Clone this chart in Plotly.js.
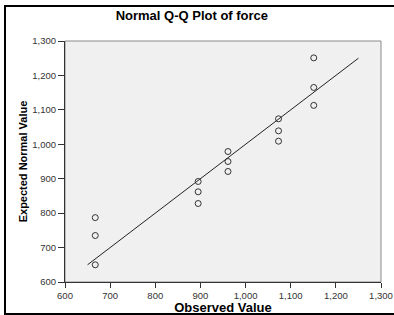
<!DOCTYPE html>
<html>
<head>
<meta charset="utf-8">
<script src="https://cdn.plot.ly/plotly-3.0.1.min.js"></script>
<style>
html,body{margin:0;padding:0;background:#fff;}
#wrap{position:relative;width:394px;height:315px;}
#chart{position:absolute;left:0;top:0;width:394px;height:315px;}
#frame{position:absolute;left:4px;top:5px;width:392px;height:306px;border-top:2px solid #000;border-left:2px solid #000;border-bottom:2px solid #000;pointer-events:none;}
</style>
</head>
<body>
<div id="wrap"><div id="chart"></div><div id="frame"></div></div>
<script>
var observed = [667, 667, 667, 895, 895, 895, 961, 961, 961, 1073, 1073, 1073, 1151, 1151, 1151];
var expected = [650, 735, 787, 828, 862, 892, 921, 950, 979, 1009, 1039, 1074, 1113, 1165, 1251];
var refLine = [650, 1250];
var xTicks = [600, 700, 800, 900, 1000, 1100, 1200, 1300];
var yTicks = [600, 700, 800, 900, 1000, 1100, 1200, 1300];

var traces = [
  {x: refLine, y: refLine, mode: 'lines', type: 'scatter',
   line: {color: '#222', width: 1}, hoverinfo: 'skip'},
  {x: observed, y: expected, mode: 'markers', type: 'scatter',
   marker: {symbol: 'circle-open', size: 6, color: '#333', line: {width: 1, color: '#333'}}}
];

var axisFont = {family: 'Liberation Sans, Arial, sans-serif', size: 9.5, color: '#333'};
var layout = {
  width: 394, height: 315,
  margin: {l: 65, r: 13, t: 41, b: 33, pad: 0},
  paper_bgcolor: '#fff',
  plot_bgcolor: '#f0f0f0',
  showlegend: false,
  title: {text: 'Normal Q-Q Plot of force', x: 0.487, xref: 'container', xanchor: 'center',
          y: 0.952, yref: 'container', yanchor: 'middle',
          font: {family: 'Liberation Sans, Arial, sans-serif', size: 13, color: '#000', weight: 'bold'}},
  xaxis: {range: [600, 1300], tickvals: xTicks, tickformat: ',d',
          showgrid: false, zeroline: false, showline: true, linecolor: '#333', linewidth: 1,
          ticks: 'outside', ticklen: 5, tickcolor: '#333', tickfont: axisFont,
          title: {text: 'Observed Value', standoff: 2,
                  font: {family: 'Liberation Sans, Arial, sans-serif', size: 13, color: '#000', weight: 'bold'}}},
  yaxis: {range: [600, 1300], tickvals: yTicks, tickformat: ',d',
          showgrid: false, zeroline: false, showline: true, linecolor: '#333', linewidth: 1,
          ticks: 'outside', ticklen: 6, tickcolor: '#333', tickfont: axisFont,
          title: {text: 'Expected Normal Value', standoff: 2,
                  font: {family: 'Liberation Sans, Arial, sans-serif', size: 11, color: '#000', weight: 'bold'}}},
  shapes: [
    {type: 'rect', xref: 'paper', yref: 'paper', x0: 0, x1: 1, y0: 0, y1: 1,
     line: {color: '#8a8a8a', width: 1}, layer: 'below'}
  ]
};
Plotly.newPlot('chart', traces, layout, {staticPlot: true, displayModeBar: false});
</script>
</body>
</html>
